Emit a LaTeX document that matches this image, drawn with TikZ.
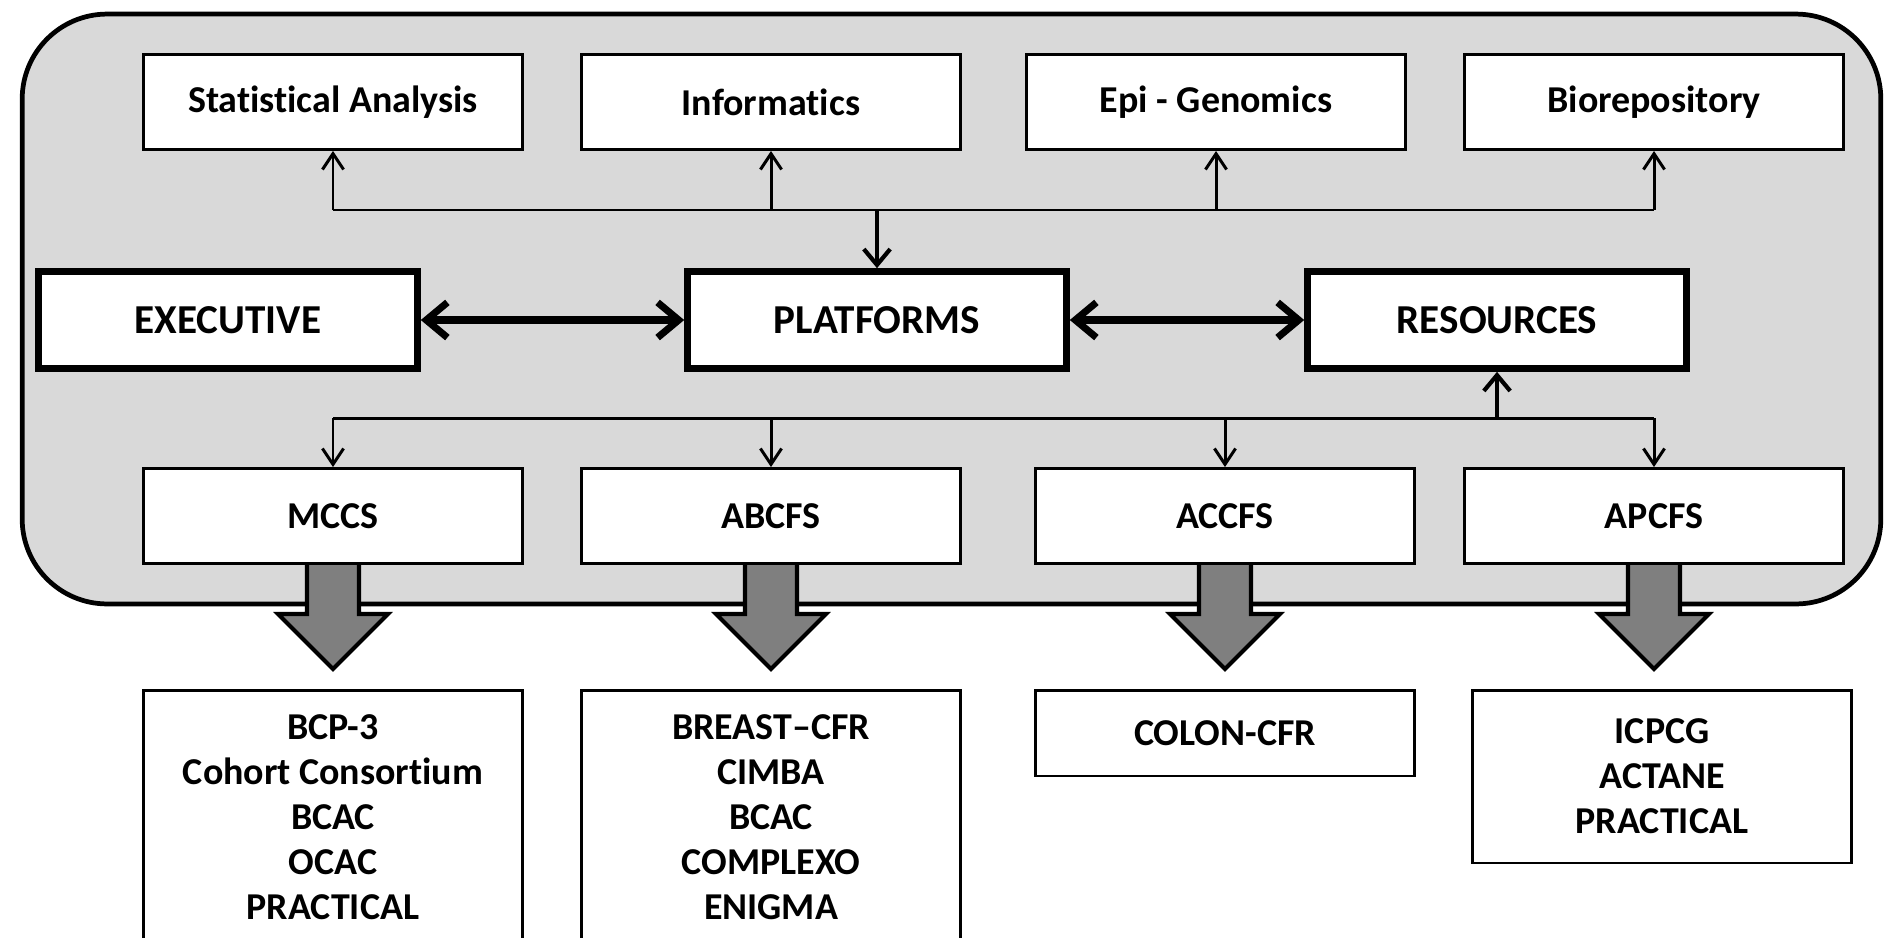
\documentclass[tikz,border=0pt]{standalone}
\usepackage{fontspec}
\setmainfont{Carlito}[Ligatures=NoCommon]
\usetikzlibrary{arrows.meta,calc}
\definecolor{panelgray}{HTML}{D9D9D9}
\definecolor{blockgray}{HTML}{7F7F7F}
\tikzset{
  panelbox/.style={draw, fill=panelgray, line width=2.7pt, rounded corners=1.7cm, minimum width=37.18cm, minimum height=11.8cm, inner sep=0pt},
  box/.style={draw, fill=white, line width=1.7pt, minimum width=7.58cm, minimum height=1.9cm, inner sep=0pt, align=center, font=\fontsize{21.6}{25.6}\selectfont\bfseries},
  bigbox/.style={box, line width=3.8pt, minimum height=1.94cm, font=\fontsize{23.4}{28}\selectfont\bfseries},
  listbox/.style={box, minimum width=7.58cm},
  busline/.style={line width=1.7pt},
  thinarrow/.style={line width=1.7pt, -{Straight Barb[length=9pt,width=12pt]}},
  medarrow/.style={line width=2.4pt, -{Straight Barb[length=9pt,width=15pt]}},
  thickarrow/.style={line width=4pt, {Straight Barb[length=12pt,width=20pt]}-{Straight Barb[length=12pt,width=20pt]}},
  blockarrow/.style={draw, fill=blockgray, line width=2.3pt, line join=miter},
}
\newcommand{\downblock}[1]{%
  \draw[blockarrow] ($(#1.south)+(-26,-6)$) -- ($(#1.south)+(26,-6)$) -- ($(#1.south)+(26,49)$)
    -- ($(#1.south)+(55,49)$) -- ($(#1.south)+(0,104)$) -- ($(#1.south)+(-55,49)$)
    -- ($(#1.south)+(-26,49)$) -- cycle;}
\begin{document}
\begin{tikzpicture}[x=0.02cm, y=-0.02cm]
\useasboundingbox (0,0) rectangle (1884,937);
\clip (0,0) rectangle (1884,937);

\node[panelbox] (panel) at (951.5,309) {};

% bottom row nodes inside panel (placed first for block arrows)
\node[box] (mccs) at (333,516) {MCCS};
\node[box] (abcfs) at (771,516) {ABCFS};
\node[box] (accfs) at (1225,516) {ACCFS};
\node[box] (apcfs) at (1654,516) {APCFS};

\downblock{mccs}
\downblock{abcfs}
\downblock{accfs}
\downblock{apcfs}

% redraw boxes on top of arrow shafts
\node[box] at (mccs) {MCCS};
\node[box] at (abcfs) {ABCFS};
\node[box] at (accfs) {ACCFS};
\node[box] at (apcfs) {APCFS};

% top row
\node[box] (stat) at (333,102) {Statistical Analysis};
\node[box] (info) at (771,102) {Informatics};
\node[box] (epi) at (1216,102) {Epi - Genomics};
\node[box] (bio) at (1654,102) {Biorepository};

% middle row
\node[bigbox] (exec) at (228,320) {EXECUTIVE};
\node[bigbox] (plat) at (877,320) {PLATFORMS};
\node[bigbox] (res) at (1497,320) {RESOURCES};

% bottom lists
\node[listbox, minimum height=5.1cm] (l1) at (333,817.5) {BCP-3\\Cohort Consortium\\BCAC\\OCAC\\PRACTICAL};
\node[listbox, minimum height=5.1cm] (l2) at (771,817.5) {BREAST–CFR\\CIMBA\\BCAC\\COMPLEXO\\ENIGMA};
\node[listbox, minimum height=1.72cm] (l3) at (1225,733) {COLON-CFR};
\node[listbox, minimum height=3.46cm] (l4) at (1662,776.5) {ICPCG\\ACTANE\\PRACTICAL};

% top bus
\coordinate (tb) at (877,210);
\draw[busline] (stat.south |- tb) -- (bio.south |- tb);
\draw[thinarrow] (stat.south |- tb) -- (stat.south);
\draw[thinarrow] (info.south |- tb) -- (info.south);
\draw[thinarrow] (epi.south |- tb) -- (epi.south);
\draw[thinarrow] (bio.south |- tb) -- (bio.south);
\draw[medarrow] (tb) -- (plat.north);

% lower bus
\coordinate (lb) at (1497,418);
\draw[busline] (mccs.north |- lb) -- (apcfs.north |- lb);
\draw[thinarrow] (mccs.north |- lb) -- (mccs.north);
\draw[thinarrow] (abcfs.north |- lb) -- (abcfs.north);
\draw[thinarrow] (accfs.north |- lb) -- (accfs.north);
\draw[thinarrow] (apcfs.north |- lb) -- (apcfs.north);
\draw[medarrow] (lb) -- (res.south);

% double arrows
\draw[thickarrow] (exec.east) -- (plat.west);
\draw[thickarrow] (plat.east) -- (res.west);
\end{tikzpicture}
\end{document}
